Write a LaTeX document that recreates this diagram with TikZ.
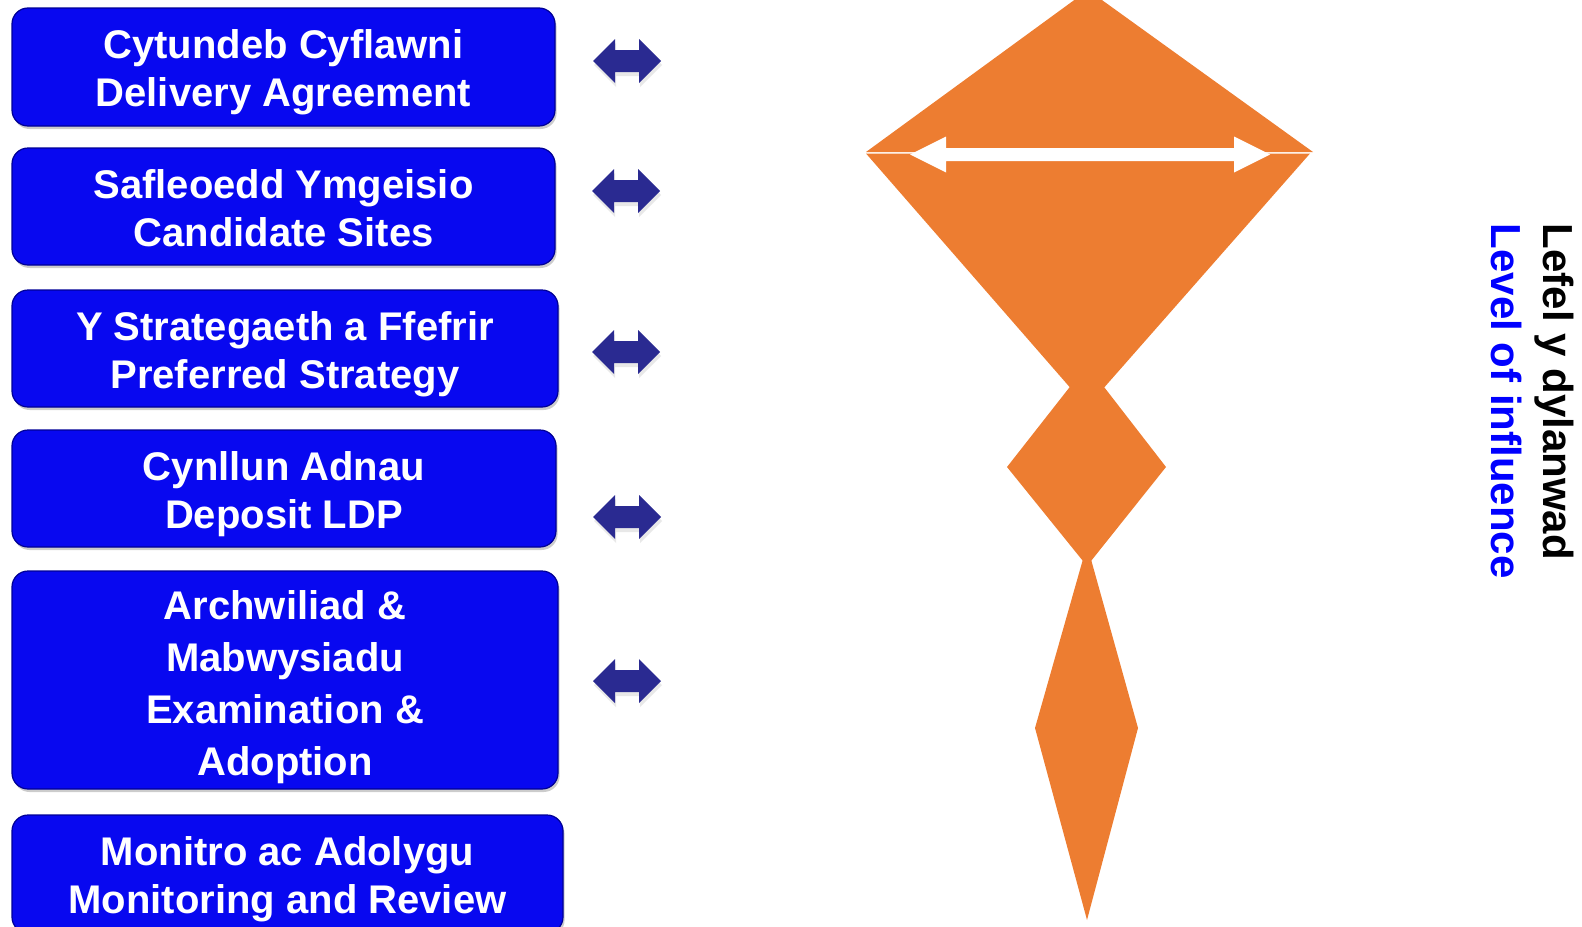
\documentclass[tikz,border=0pt]{standalone}
\usepackage{fontspec}
\setmainfont{Liberation Sans}
\usetikzlibrary{shadows}

\definecolor{boxblue}{RGB}{8,8,240}
\definecolor{boxedge}{RGB}{0,0,150}
\definecolor{arrownavy}{RGB}{42,42,145}
\definecolor{kiteorange}{RGB}{237,125,49}
\definecolor{labelblue}{RGB}{0,0,255}

\tikzset{every picture/.style={line width=0.75pt},
  stagebox/.style={rectangle, rounded corners=8pt, fill=boxblue, draw=boxedge, line width=0.6pt,
    text=white, align=center, inner sep=0pt, font=\bfseries\fontsize{20}{24}\selectfont,
    text height=39.5pt, text depth=0pt,
    drop shadow={opacity=0.4, shadow xshift=0.8pt, shadow yshift=-1.5pt}},
  linkarrow/.style={fill=arrownavy, drop shadow={opacity=0.18, shadow xshift=0.5pt, shadow yshift=-2pt}},
  kite/.style={fill=kiteorange},
  sidelabel/.style={rotate=-90, anchor=west, inner sep=0pt, font=\bfseries\fontsize{21}{24}\selectfont}}

\begin{document}
\begin{tikzpicture}[x=0.5pt,y=0.5pt,yscale=-1,xscale=1]
        \clip (0,0) rectangle (1582,926);

        % Text Node
        \node[stagebox, minimum width=271.5pt, minimum height=59pt] (delivery) at (283.5,67) {Cytundeb Cyflawni\\Delivery Agreement};
        % Text Node
        \node[stagebox, minimum width=271.5pt, minimum height=58.5pt] (candidate) at (283.5,206.5) {Safleoedd Ymgeisio\\Candidate Sites};
        % Text Node
        \node[stagebox, minimum width=273pt, minimum height=58.5pt] (strategy) at (285,348.5) {Y Strategaeth a Ffefrir\\Preferred Strategy};
        % Text Node
        \node[stagebox, minimum width=272pt, minimum height=58.5pt] (deposit) at (284,488.5) {Cynllun Adnau\\Deposit LDP};
        % Text Node
        \node[stagebox, minimum width=273pt, minimum height=109pt, text height=95pt, font=\bfseries\fontsize{20}{26}\selectfont] (exam) at (285,680) {Archwiliad \&\\Mabwysiadu\\Examination \&\\Adoption};
        % Text Node
        \node[stagebox, minimum width=275.5pt, minimum height=59pt] (monitor) at (287.5,874) {Monitro ac Adolygu\\Monitoring and Review};

        %Shape: Double Arrow
        \fill[linkarrow, shift={(627,61)}] (-34,0) -- (-12,-22) -- (-12,-11) -- (12,-11) -- (12,-22) -- (34,0) -- (12,22) -- (12,11) -- (-12,11) -- (-12,22) -- cycle ;
        %Shape: Double Arrow
        \fill[linkarrow, shift={(626,191)}] (-34,0) -- (-12,-22) -- (-12,-11) -- (12,-11) -- (12,-22) -- (34,0) -- (12,22) -- (12,11) -- (-12,11) -- (-12,22) -- cycle ;
        %Shape: Double Arrow
        \fill[linkarrow, shift={(626,352)}] (-34,0) -- (-12,-22) -- (-12,-11) -- (12,-11) -- (12,-22) -- (34,0) -- (12,22) -- (12,11) -- (-12,11) -- (-12,22) -- cycle ;
        %Shape: Double Arrow
        \fill[linkarrow, shift={(627,517)}] (-34,0) -- (-12,-22) -- (-12,-11) -- (12,-11) -- (12,-22) -- (34,0) -- (12,22) -- (12,11) -- (-12,11) -- (-12,22) -- cycle ;
        %Shape: Double Arrow
        \fill[linkarrow, shift={(627,681)}] (-34,0) -- (-12,-22) -- (-12,-11) -- (12,-11) -- (12,-22) -- (34,0) -- (12,22) -- (12,11) -- (-12,11) -- (-12,22) -- cycle ;

        %Shape: Triangle (kite top)
        \fill[kite] (866,152) -- (1088,-10) -- (1313,152) -- cycle ;
        %Shape: Triangle (kite bottom)
        \fill[kite] (866,153.5) -- (1310,153.5) -- (1087,407) -- cycle ;
        %Shape: Diamond
        \fill[kite] (1087,365) -- (1166,467) -- (1087,566) -- (1007,467) -- cycle ;
        %Shape: Diamond
        \fill[kite] (1087,545) -- (1138,728) -- (1087,920) -- (1035,728) -- cycle ;
        %Shape: White Double Arrow
        \fill[white] (910,154.5) -- (946,136.5) -- (946,148) -- (1234,148) -- (1234,136.5) -- (1270,154.5) -- (1234,172.5) -- (1234,161) -- (946,161) -- (946,172.5) -- cycle ;

        % Text Node
        \node[sidelabel, text=black] (lefel) at (1554,223) {Lefel y dylanwad};
        % Text Node
        \node[sidelabel, text=labelblue] (level) at (1506,223) {Level of influence};

\end{tikzpicture}
\end{document}
